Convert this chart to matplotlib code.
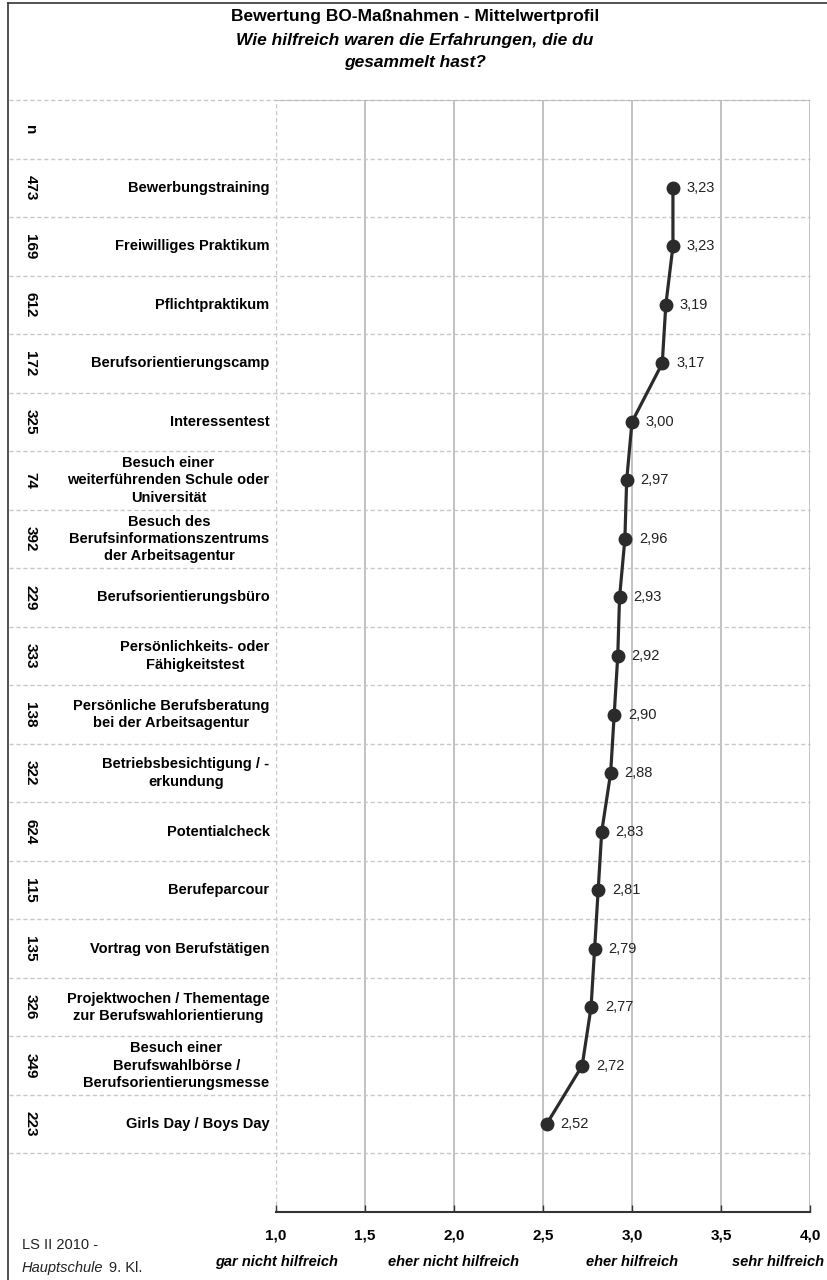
import matplotlib
matplotlib.use('Agg')
import matplotlib.pyplot as plt
import numpy as np

plt.rcParams['font.family'] = ['Liberation Sans', 'DejaVu Sans']

# Daten
labels = ['Bewerbungstraining', 'Freiwilliges Praktikum', 'Pflichtpraktikum',
          'Berufsorientierungscamp', 'Interessentest',
          'Besuch einer\nweiterführenden Schule oder\nUniversität',
          'Besuch des\nBerufsinformationszentrums\nder Arbeitsagentur',
          'Berufsorientierungsbüro', 'Persönlichkeits- oder\nFähigkeitstest',
          'Persönliche Berufsberatung\nbei der Arbeitsagentur',
          'Betriebsbesichtigung / -\nerkundung', 'Potentialcheck', 'Berufeparcour',
          'Vortrag von Berufstätigen',
          'Projektwochen / Thementage\nzur Berufswahlorientierung',
          'Besuch einer\nBerufswahlbörse /\nBerufsorientierungsmesse',
          'Girls Day / Boys Day']
n_values = [473, 169, 612, 172, 325, 74, 392, 229, 333, 138, 322, 624, 115, 135, 326, 349, 223]
means = [3.23, 3.23, 3.19, 3.17, 3.00, 2.97, 2.96, 2.93, 2.92, 2.90, 2.88, 2.83, 2.81,
         2.79, 2.77, 2.72, 2.52]
xticks = [1.0, 1.5, 2.0, 2.5, 3.0, 3.5, 4.0]
scale_labels = ['gar nicht hilfreich', 'eher nicht hilfreich', 'eher hilfreich', 'sehr hilfreich']
scale_pos = [1, 2, 3, 4]

W, H = 828, 1280
fig = plt.figure(figsize=(W / 100, H / 100), dpi=100)

# Achse: x 1..4 -> px 276..810, y oben 100, unten 1212
left, right, top, bottom = 276, 810, 100, 1212
ax = fig.add_axes([left / W, 1 - bottom / H, (right - left) / W, (bottom - top) / H])
nslots = len(labels) + 2
ax.set_xlim(1, 4)
ax.set_ylim(nslots, 0)

ypos = np.arange(len(labels)) + 1.5

# Gitter
for x in xticks[1:]:
    ax.axvline(x, color='#b8b8b8', lw=1.2, zorder=1)
ax.axvline(1.0, color='#c8c8c8', lw=1, ls=(0, (3, 2)), zorder=1)
ax.hlines(np.arange(0, nslots), -0.5, 1, transform=ax.get_yaxis_transform(),
          colors='#c8c8c8', lw=1, linestyles=(0, (3, 2)), clip_on=False, zorder=1)
ax.axhline(0, color='#b8b8b8', lw=1.2)

for s in ['left', 'right', 'top']:
    ax.spines[s].set_visible(False)
ax.spines['bottom'].set_color('#333333')
ax.spines['bottom'].set_linewidth(1.5)

ax.set_yticks([])
ax.set_xticks(xticks)
ax.set_xticklabels([f'{x:.1f}'.replace('.', ',') for x in xticks],
                   fontsize=11, fontweight='bold')
ax.tick_params(axis='x', direction='in', length=5, width=1, color='#333333', pad=12)

# Mittelwertprofil
ax.plot(means, ypos, color='#2b2b2b', lw=2.3, marker='o', markersize=9,
        markerfacecolor='#2b2b2b', markeredgecolor='#2b2b2b', zorder=3)
for m, y in zip(means, ypos):
    ax.annotate(f'{m:.2f}'.replace('.', ','), (m, y), xytext=(10, 0),
                textcoords='offset points', va='center', ha='left',
                fontsize=10.5, color='#222222')

# Beschriftungen links
tr = ax.get_yaxis_transform()
for lab, y in zip(labels, ypos):
    ax.text(-0.012, y, lab, transform=tr, ha='right', va='center',
            multialignment='center', fontsize=10.5, fontweight='bold',
            linespacing=1.3)
for nv, y in zip(['n'] + [str(v) for v in n_values], np.arange(len(labels) + 1) + 0.5):
    ax.text(-0.46, y, nv, transform=tr, ha='center', va='center', rotation=-90,
            fontsize=11, fontweight='bold')

# Skala unten
for lab, p in zip(scale_labels, scale_pos):
    x_fig = (left + (p - 1) * (right - left) / 3) / W
    ha = 'center'
    if p == 4:
        x_fig = (right + 14) / W
        ha = 'right'
    fig.text(x_fig, 1 - 1262 / H, lab, ha=ha, va='center', fontsize=10.5,
             fontweight='bold', style='italic')

fig.text(22 / W, 1 - 1245 / H, 'LS II 2010 -', fontsize=10.5, va='center', color='#222222')
fig.text(22 / W, 1 - 1268 / H, 'Hauptschule', fontsize=10.5, va='center',
         style='italic', color='#222222')
fig.text(109 / W, 1 - 1268 / H, '9. Kl.', fontsize=10.5, va='center', color='#222222')

# Titel
fig.text(415 / W, 1 - 17 / H, 'Bewertung BO-Maßnahmen - Mittelwertprofil',
         ha='center', va='center', fontsize=12.5, fontweight='bold')
fig.text(415 / W, 1 - 40 / H, 'Wie hilfreich waren die Erfahrungen, die du',
         ha='center', va='center', fontsize=12.5, fontweight='bold', style='italic')
fig.text(415 / W, 1 - 62 / H, 'gesammelt hast?',
         ha='center', va='center', fontsize=12.5, fontweight='bold', style='italic')

# Rahmen
fig.add_artist(plt.Line2D([8 / W, 8 / W], [0, 1 - 3 / H], color='#333333', lw=1.2))
fig.add_artist(plt.Line2D([8 / W, 1], [1 - 3 / H, 1 - 3 / H], color='#333333', lw=1.2))

fig.savefig('out.png', dpi=100)
